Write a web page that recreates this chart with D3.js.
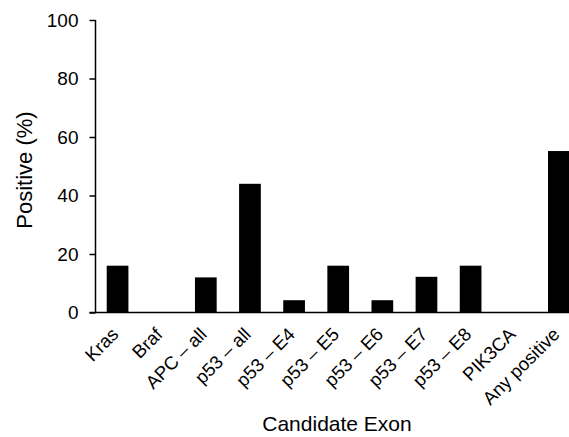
<!DOCTYPE html>
<html><head><meta charset="utf-8">
<script src="https://cdn.jsdelivr.net/npm/d3@7"></script>
<style>body{margin:0;background:#fff}svg{display:block}text{font-family:"Liberation Sans",Arial,sans-serif;fill:#000}</style>
</head><body><svg id="c" width="569" height="437"></svg>
<script>
const categories = ["Kras","Braf","APC – all","p53 – all","p53 – E4","p53 – E5","p53 – E6","p53 – E7","p53 – E8","PIK3CA","Any positive"];
const values = [16, 0, 12, 44, 4.2, 16, 4.2, 12.2, 16, 0, 55.2];
const yTicks = [0, 20, 40, 60, 80, 100];

const svg = d3.select("#c");
const x0 = 95.5, step = 44.13;
const x = d3.scaleBand().domain(categories).range([x0, x0 + step * categories.length]).paddingInner(0.508).paddingOuter(0.254);
const y = d3.scaleLinear().domain([0, 100]).range([312.5, 20]);

svg.append("g").selectAll("rect").data(values).join("rect")
  .attr("x", (d, i) => x(categories[i]))
  .attr("width", x.bandwidth())
  .attr("y", d => y(d))
  .attr("height", d => y(0) - y(d))
  .attr("fill", "#000");

const ya = svg.append("g").attr("transform", `translate(${x0},0)`)
  .call(d3.axisLeft(y).tickValues(yTicks).tickSize(6).tickPadding(11));
ya.attr("font-size", null).attr("font-family", null);
ya.select(".domain").attr("stroke", "#000").attr("stroke-width", 1.5).attr("d", `M0,${y(100)}V${y(0)}`);
ya.selectAll(".tick line").attr("stroke", "#000").attr("stroke-width", 1.5);
ya.selectAll(".tick text").style("font-size", "19px").attr("fill", "#000");

svg.append("line").attr("x1", x0 - 6).attr("x2", 569).attr("y1", y(0)).attr("y2", y(0))
  .attr("stroke", "#000").attr("stroke-width", 1.5);

svg.append("g").selectAll("text").data(categories).join("text")
  .attr("transform", d => `translate(${x(d) + x.bandwidth() / 2 + 2},${y(0) + 23}) rotate(-45)`)
  .attr("text-anchor", "end")
  .style("font-size", "18.5px")
  .text(d => d);

svg.append("text").attr("transform", `translate(32,170) rotate(-90)`)
  .attr("text-anchor", "middle").style("font-size", "22px").text("Positive (%)");
svg.append("text").attr("x", 337).attr("y", 431).attr("text-anchor", "middle").style("font-size", "21px").text("Candidate Exon");
</script></body></html>
